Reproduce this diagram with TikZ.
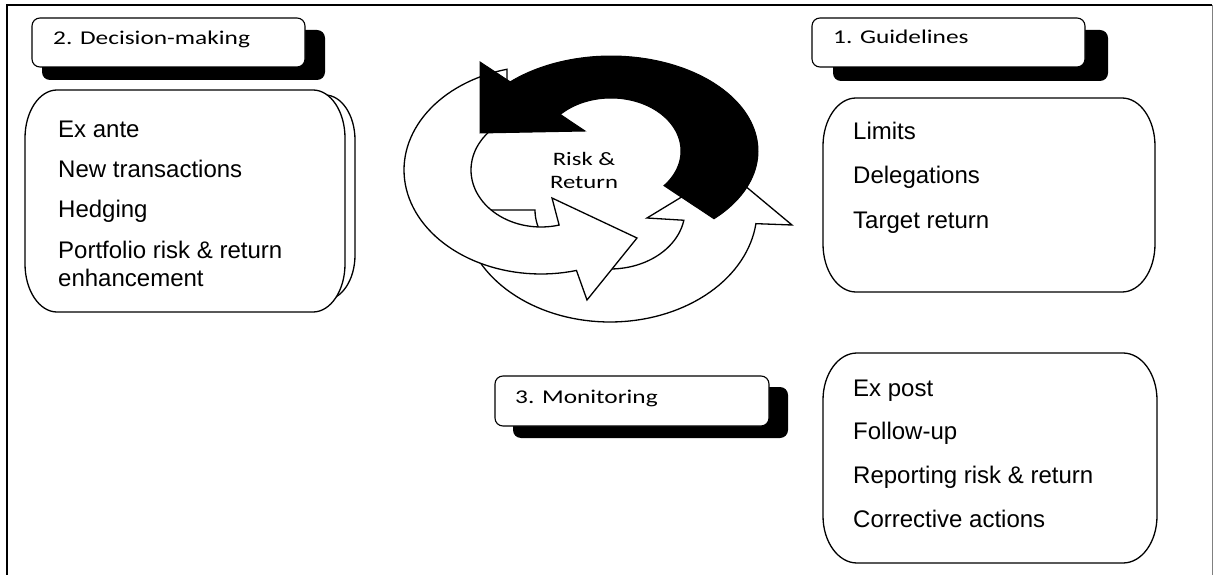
\documentclass[tikz,border=0pt]{standalone}
\usepackage{fontspec}
\setmainfont{Liberation Sans}
\newfontfamily\labfont[FakeStretch=1.3]{Carlito}
\newcommand{\ebox}[6]{%
 (#1+#5,#2) -- (#3-#5,#2) .. controls (#3-0.4477*#5,#2) and (#3,#2+0.4477*#6) .. (#3,#2+#6)
 -- (#3,#4-#6) .. controls (#3,#4-0.4477*#6) and (#3-0.4477*#5,#4) .. (#3-#5,#4)
 -- (#1+#5,#4) .. controls (#1+0.4477*#5,#4) and (#1,#4-0.4477*#6) .. (#1,#4-#6)
 -- (#1,#2+#6) .. controls (#1,#2+0.4477*#6) and (#1+0.4477*#5,#2) .. (#1+#5,#2) -- cycle}
\tikzset{
 boxline/.style={draw=black, line width=1.3pt, fill=white},
 shadowbox/.style={fill=black, rounded corners=8pt},
 labelbox/.style={draw=black, line width=1.1pt, fill=white, rounded corners=8pt},
 labeltext/.style={anchor=base west, inner sep=0pt, font=\labfont\fontsize{19.5}{23}\selectfont},
 centertext/.style={anchor=base, inner sep=0pt, font=\labfont\fontsize{19}{23}\selectfont},
 bodytext/.style={anchor=base west, inner sep=0pt, font=\fontsize{24}{28}\selectfont},
 arrowwhite/.style={draw=black, line width=1.3pt, fill=white, line join=miter},
 arrowblack/.style={draw=black, line width=1pt, fill=black, line join=miter},
}
\begin{document}
\begin{tikzpicture}[x=1pt,y=-1pt]
\useasboundingbox (0,0) rectangle (1216,575);
% frame
\draw[line width=2.2pt] (7,575) -- (7,5) -- (1212,5);
\draw[gray, line width=1pt] (1212,5) -- (1212,575);

% label boxes
\fill[shadowbox] (42,30) rectangle (325,80);
\draw[labelbox] (32,18) rectangle (305,67);
\node[labeltext] (l2) at (53,45) {2. Decision-making};

\fill[shadowbox] (833,30) rectangle (1108,81);
\draw[labelbox] (812,18) rectangle (1085,67);
\node[labeltext] (l1) at (833,44) {1. Guidelines};

\fill[shadowbox] (513,387) rectangle (788,438);
\draw[labelbox] (495,376) rectangle (769,426);
\node[labeltext] (l3) at (515,403) {3. Monitoring};

% left content box
\draw[boxline] \ebox{35}{95}{355}{300}{30}{45};
\draw[boxline] \ebox{25}{90}{345}{312}{32}{48};
\node[bodytext] (d1) at (58,138) {Ex ante};
\node[bodytext] (d2) at (58,178) {New transactions};
\node[bodytext] (d3) at (58,218) {Hedging};
\node[bodytext] (d4) at (58,258) {Portfolio risk \& return};
\node[bodytext] (d5) at (58,286) {enhancement};

% right top box
\draw[boxline] \ebox{823}{98}{1155}{292}{33}{48};
\node[bodytext] (g1) at (853,140) {Limits};
\node[bodytext] (g2) at (853,184) {Delegations};
\node[bodytext] (g3) at (853,228) {Target return};

% right bottom box
\draw[boxline] \ebox{823}{353}{1157}{563}{34}{47};
\node[bodytext] (m1) at (853,396.5) {Ex post};
\node[bodytext] (m2) at (853,439.5) {Follow-up};
\node[bodytext] (m3) at (853,483.5) {Reporting risk \& return};
\node[bodytext] (m4) at (853,527) {Corrective actions};

% circular arrows
% arrow 2 (bottom, white)
\path[arrowwhite] plot[domain=180:7, samples=70, variable=\t] ({610+147*cos(\t)},{210+112*sin(\t)})
  -- (792,225) -- (726,170) -- (647,218)
  -- plot[domain=10:180, samples=50, variable=\t] ({610+75*cos(\t)},{210+59*sin(\t)}) -- cycle;
% arrow 1 (left, white)
\path[arrowwhite] plot[domain=255.6:75, samples=70, variable=\t] ({541+137*cos(\t)},{170+104*sin(\t)})
  -- (587,300) -- (637,238) -- (552,198)
  -- plot[domain=75:241, samples=50, variable=\t] ({541+70*cos(\t)},{170+57*sin(\t)}) -- cycle;
% arrow black (top)
\path[arrowblack] plot[domain=45.5:-133.3, samples=80, variable=\t] ({611+147*cos(\t)},{151+95*sin(\t)})
  -- (480,62) -- (480,133) -- (585,131)
  -- plot[domain=-136.4:40.8, samples=60, variable=\t] ({611+70*cos(\t)},{151+53*sin(\t)}) -- cycle;

\node[centertext] (rr1) at (584,165) {Risk \&};
\node[centertext] (rr2) at (584,189) {Return};
\end{tikzpicture}
\end{document}
